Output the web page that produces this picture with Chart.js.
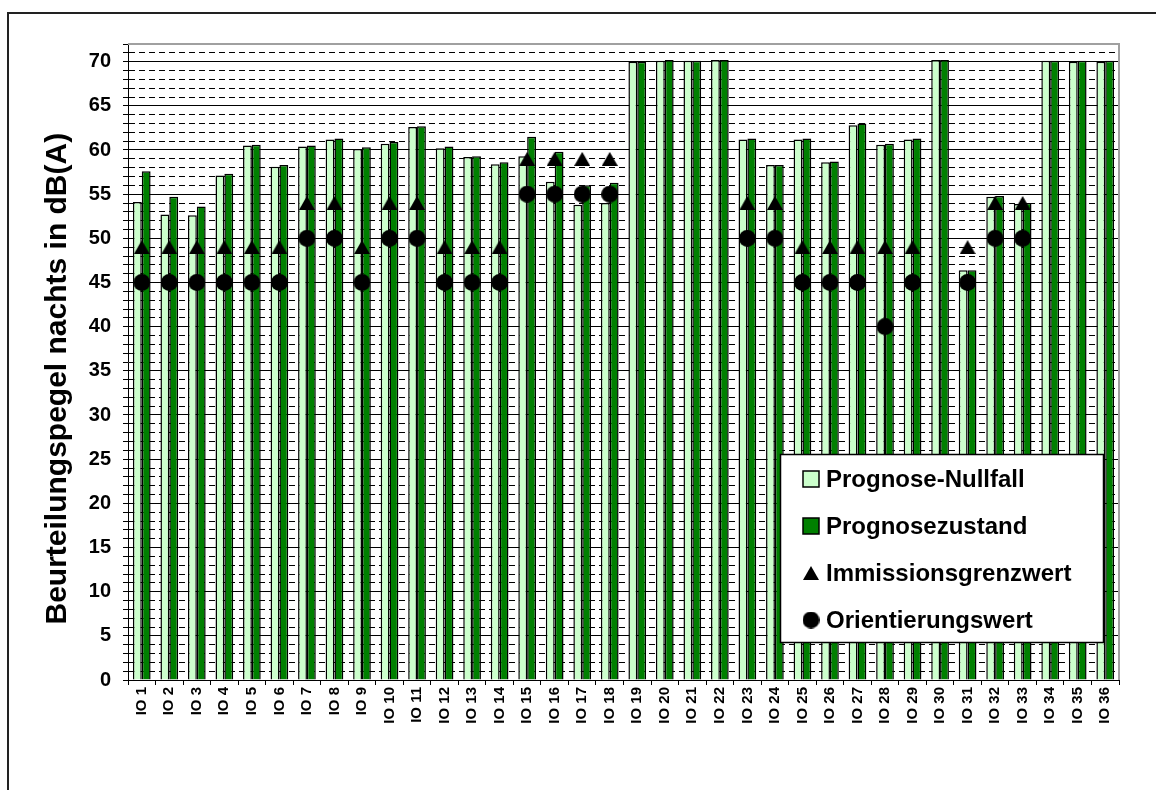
<!DOCTYPE html>
<html><head><meta charset="utf-8">
<script src="https://cdn.jsdelivr.net/npm/chart.js@4"></script>
<style>
html,body{margin:0;padding:0;background:#fff;width:1156px;height:790px;overflow:hidden}
#frame{position:absolute;left:7px;top:12px;width:1200px;height:800px;border-top:2px solid #222;border-left:2px solid #222}
#wrap{position:absolute;left:0;top:0;width:1156px;height:790px}
</style></head><body>
<div id="frame"></div>
<div id="wrap"><canvas id="c" width="1156" height="790"></canvas></div>
<script>
const categories = ['IO 1','IO 2','IO 3','IO 4','IO 5','IO 6','IO 7','IO 8','IO 9','IO 10','IO 11','IO 12','IO 13','IO 14','IO 15','IO 16','IO 17','IO 18','IO 19','IO 20','IO 21','IO 22','IO 23','IO 24','IO 25','IO 26','IO 27','IO 28','IO 29','IO 30','IO 31','IO 32','IO 33','IO 34','IO 35','IO 36'];
const prognoseNullfall = [54.1,52.7,52.6,57.1,60.5,58.1,60.4,61.2,60.1,60.7,62.6,60.2,59.2,58.4,59.3,56.4,53.8,54.0,70.0,70.1,70.1,70.2,61.2,58.3,61.2,58.6,62.8,60.6,61.2,70.2,46.4,54.7,53.9,70.1,70.0,70.0];
const prognosezustand = [57.6,54.7,53.6,57.3,60.6,58.3,60.5,61.3,60.3,60.9,62.7,60.4,59.3,58.6,61.5,59.8,56.0,56.3,70.0,70.2,70.1,70.2,61.3,58.3,61.3,58.7,63.0,60.7,61.3,70.2,46.4,54.8,54.0,70.1,70.1,70.1];
const immissionsgrenzwert = [49,49,49,49,49,49,54,54,49,54,54,49,49,49,59,59,59,59,null,null,null,null,54,54,49,49,49,49,49,null,49,54,54,null,null,null];
const orientierungswert = [45,45,45,45,45,45,50,50,45,50,50,45,45,45,55,55,55,55,null,null,null,null,50,50,45,45,45,40,45,null,45,50,50,null,null,null];
const seriesNames = ['Prognose-Nullfall','Prognosezustand','Immissionsgrenzwert','Orientierungswert'];
const yTitle = 'Beurteilungspegel nachts in dB(A)';
const yMin = 0, yMax = 72;

const FONT = '"Liberation Sans", Arial, sans-serif';

function makeTriangle(w, h) {
  const c = document.createElement('canvas');
  c.width = w; c.height = h;
  const g = c.getContext('2d');
  g.fillStyle = '#000';
  g.beginPath(); g.moveTo(w/2, 0); g.lineTo(w, h); g.lineTo(0, h); g.closePath(); g.fill();
  return c;
}
function makeCircle(d) {
  const c = document.createElement('canvas');
  c.width = d; c.height = d;
  const g = c.getContext('2d');
  g.fillStyle = '#000';
  g.beginPath(); g.arc(d/2, d/2, d/2, 0, Math.PI*2); g.fill();
  return c;
}
const triImg = makeTriangle(16, 14);
const circImg = makeCircle(17);

const plotBorder = {
  id: 'plotBorder',
  beforeDatasetsDraw(chart) {
    const {ctx, chartArea: a} = chart;
    ctx.save();
    ctx.strokeStyle = '#a0a0a0';
    ctx.lineWidth = 2;
    ctx.beginPath();
    ctx.moveTo(a.left, a.top); ctx.lineTo(a.right, a.top); ctx.lineTo(a.right, a.bottom);
    ctx.stroke();
    ctx.restore();
  }
};

const legendBox = {
  id: 'legendBox',
  afterDraw(chart) {
    const {ctx, chartArea: a} = chart;
    const x0 = a.right - 339, y0 = a.bottom - 226, w = 323, h = 188;
    ctx.save();
    ctx.fillStyle = '#fff';
    ctx.fillRect(x0, y0, w, h);
    ctx.strokeStyle = '#000';
    ctx.lineWidth = 1.5;
    ctx.strokeRect(x0 + 0.5, y0 + 0.5, w, h);
    ctx.font = 'bold 24px ' + FONT;
    ctx.textBaseline = 'middle';
    ctx.textAlign = 'left';
    chart.data.datasets.forEach((ds, i) => {
      const cy = y0 + 25 + i * 47;
      const mx = x0 + 23;
      if (ds.type === 'bar') {
        ctx.fillStyle = ds.backgroundColor;
        ctx.fillRect(mx, cy - 8, 16, 16);
        ctx.strokeStyle = '#000';
        ctx.lineWidth = 1.5;
        ctx.strokeRect(mx, cy - 8, 16, 16);
      } else {
        const img = ds.pointStyle;
        ctx.drawImage(img, mx + 8 - img.width/2, cy - img.height/2);
      }
      ctx.fillStyle = '#000';
      ctx.fillText(ds.label, x0 + 46, cy + 1);
    });
    ctx.restore();
  }
};

new Chart(document.getElementById('c'), {
  data: {
    labels: categories,
    datasets: [
      {type: 'bar', label: seriesNames[0], data: prognoseNullfall, backgroundColor: '#ccffcc', borderColor: '#000', borderWidth: 1.5, order: 2, categoryPercentage: 0.643, barPercentage: 1},
      {type: 'bar', label: seriesNames[1], data: prognosezustand, backgroundColor: '#008000', borderColor: '#000', borderWidth: 1.5, order: 2, categoryPercentage: 0.643, barPercentage: 1},
      {type: 'line', label: seriesNames[2], data: immissionsgrenzwert, showLine: false, pointStyle: triImg, pointRadius: 8, pointHoverRadius: 8, order: 1, backgroundColor: '#000', borderColor: '#000'},
      {type: 'line', label: seriesNames[3], data: orientierungswert, showLine: false, pointStyle: circImg, pointRadius: 8, pointHoverRadius: 8, order: 0, backgroundColor: '#000', borderColor: '#000'}
    ]
  },
  options: {
    responsive: false,
    animation: false,
    events: [],
    layout: {padding: {left: 0, top: 44, right: 37, bottom: 0}},
    plugins: {legend: {display: false}, tooltip: {enabled: false}, title: {display: false}},
    scales: {
      x: {
        offset: true,
        grid: {offset: true, drawOnChartArea: false, tickLength: 5, tickColor: '#000', tickWidth: 1},
        border: {color: '#000', width: 1},
        ticks: {autoSkip: false, minRotation: 90, maxRotation: 90, padding: 2, color: '#000', font: {family: FONT, size: 15, weight: 'bold'}},
        afterFit: s => { s.height = 110; }
      },
      y: {
        min: yMin, max: yMax,
        afterFit: s => { s.width = 128; },
        ticks: {stepSize: 1, autoSkip: false, padding: 12, color: '#000', font: {family: FONT, size: 20, weight: 'bold'},
          callback: v => (v % 5 === 0 ? String(v) : '')},
        grid: {color: '#000', lineWidth: 1, tickLength: 5, tickColor: '#000'},
        border: {color: '#000', width: 1, dash: ctx => (ctx.type === 'tick' && ctx.tick && ctx.tick.value % 5 !== 0) ? [6, 4] : []},
        title: {display: true, text: yTitle + '    ', color: '#000', padding: {top: 40, bottom: 0}, font: {family: FONT, size: 30, weight: 'bold'}}
      }
    }
  },
  plugins: [plotBorder, legendBox]
});
</script>
</body></html>
